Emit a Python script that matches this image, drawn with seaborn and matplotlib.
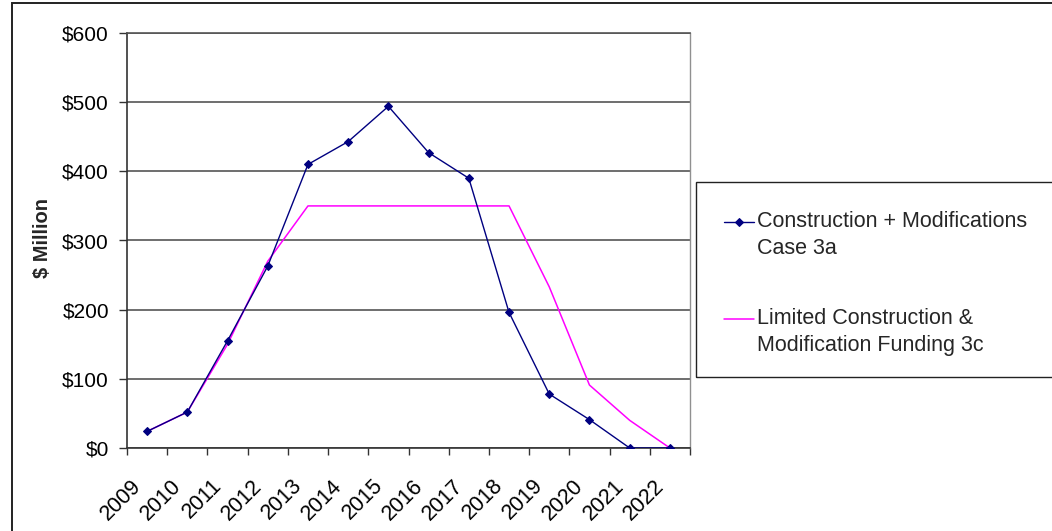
import numpy as np
import pandas as pd
import matplotlib
matplotlib.use("Agg")
import matplotlib.pyplot as plt
import matplotlib.transforms as mtransforms
import seaborn as sns
from matplotlib.patches import Rectangle

# ---- data ----
years = ["2009", "2010", "2011", "2012", "2013", "2014", "2015",
         "2016", "2017", "2018", "2019", "2020", "2021", "2022"]
construction_3a = [24, 52, 155, 263, 410, 443, 494, 427, 390, 196, 78, 41, 0, 0]
limited_3c = [24, 52, 150, 270, 350, 350, 350, 350, 350, 350, 233, 91, 40, 0]
y_ticks = [0, 100, 200, 300, 400, 500, 600]
y_tick_labels = ["\\$0", "\\$100", "\\$200", "\\$300", "\\$400", "\\$500", "\\$600"]
series_a = "Construction + Modifications\nCase 3a"
series_c = "Limited Construction &\nModification Funding 3c"
y_title = "\\$ Million"

sns.set_theme(style="white")
plt.rcParams["font.family"] = ["Liberation Sans", "DejaVu Sans"]

W, H = 1052, 531
fig = plt.figure(figsize=(W / 100, H / 100), dpi=100)
fig.patch.set_facecolor("white")

L, R, T, B = 127, 690, 33, 448
ax = fig.add_axes([L / W, 1 - B / H, (R - L) / W, (B - T) / H])

xpos = np.arange(len(years))
df = pd.DataFrame({"x": xpos, "a": construction_3a, "c": limited_3c})

sns.lineplot(data=df, x="x", y="a", ax=ax, color="#000080", marker="D",
             markersize=4.5, markeredgecolor="#000080", linewidth=1.0,
             label=series_a, zorder=3)
sns.lineplot(data=df, x="x", y="c", ax=ax, color="#FF00FF", linewidth=1.1,
             label=series_c, zorder=2.9)

ax.set_xlim(-0.5, len(years) - 0.5)
ax.set_ylim(0, 600)
ax.set_xlabel("")
ax.set_ylabel("")

# y axis
ax.set_yticks(y_ticks)
ax.set_yticklabels(y_tick_labels)
ax.yaxis.grid(True, color="#555555", linewidth=1.2)
ax.xaxis.grid(False)
ax.tick_params(axis="y", left=True, direction="out", length=6, width=1,
               color="#333333", pad=7, labelsize=15, labelcolor="black")

# x axis: labels at category centres, tick marks at boundaries
ax.set_xticks(xpos)
ax.set_xticklabels(years, rotation=45, ha="right", va="center",
                   rotation_mode="anchor")
ax.set_xticks(np.arange(len(years) + 1) - 0.5, minor=True)
ax.tick_params(axis="x", which="major", bottom=True, length=0, pad=25,
               labelsize=15.5, labelcolor="black")
ax.tick_params(axis="x", which="minor", bottom=True, direction="out",
               length=5, width=1, color="#333333")
shift = mtransforms.ScaledTranslation(-0.09, 0, fig.dpi_scale_trans)
for lab in ax.get_xticklabels():
    lab.set_transform(lab.get_transform() + shift)

for s in ["left", "bottom"]:
    ax.spines[s].set_color("#333333")
    ax.spines[s].set_linewidth(1.2)
ax.spines["right"].set_color("#909090")
ax.spines["right"].set_linewidth(1.0)
ax.spines["top"].set_color("#555555")
ax.spines["top"].set_linewidth(1.2)

fig.text(43 / W, 1 - 238 / H, y_title, rotation=90, ha="center", va="center",
         fontsize=14.5, fontweight="bold")

# legend
handles, labels = ax.get_legend_handles_labels()
ax.get_legend().remove()
leg = fig.legend(handles, [" \n" + l for l in labels], loc="upper left",
                 bbox_to_anchor=(724 / W, 1 - 184 / H),
                 bbox_transform=fig.transFigure, frameon=False, fontsize=15.5,
                 handlelength=1.4, handletextpad=0.15, labelspacing=0.99,
                 borderpad=0, borderaxespad=0)
for t in leg.get_texts():
    t.set_linespacing(1.39)

# legend frame and outer chart border
fig.patches.append(Rectangle((696 / W, 1 - 377 / H), 1.0, 195 / H,
                             transform=fig.transFigure, fill=False,
                             edgecolor="#222222", linewidth=1.0))
fig.patches.append(Rectangle((12 / W, -0.2), 1.2, 1.2 - 3 / H,
                             transform=fig.transFigure, fill=False,
                             edgecolor="#222222", linewidth=1.4))

fig.savefig("out.png", dpi=100)
